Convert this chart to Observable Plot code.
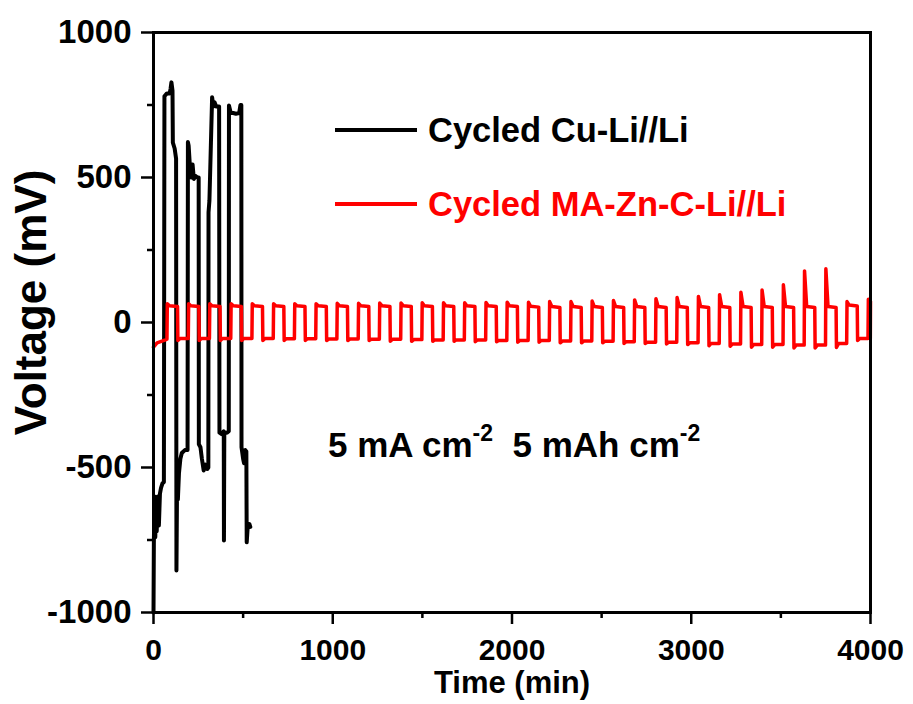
<!DOCTYPE html>
<html><head><meta charset="utf-8">
<script src="https://cdn.jsdelivr.net/npm/d3@7"></script>
<script src="https://cdn.jsdelivr.net/npm/@observablehq/plot@0.6"></script>
<style>
body{margin:0;background:#fff;}
#wrap{position:relative;width:913px;height:704px;font-family:"Liberation Sans",Arial,sans-serif;font-weight:bold;}
.leg{position:absolute;display:flex;align-items:center;font-size:34.5px;line-height:40px;white-space:nowrap;}
.leg .ln{display:inline-block;width:82px;height:4px;margin-right:11px;}
.note{position:absolute;font-size:35px;line-height:40px;white-space:nowrap;color:#000;}
.note sup{font-size:23px;position:relative;top:-3px;}
</style></head><body><div id="wrap"></div>
<script>
// ---- data ----
const seriesNames = ["Cycled Cu-Li//Li", "Cycled MA-Zn-C-Li//Li"];
const xMajor = [0, 1000, 2000, 3000, 4000];
const xMinor = [500, 1500, 2500, 3500];
const yMajor = [-1000, -500, 0, 500, 1000];
const yMinor = [-750, -250, 250, 750];

// Cu-Li//Li (black): time (min), voltage (mV)
const blackT = [0,2,6,10,14,18,24,30,36,42,50,58,
  61,75,90,95,100,106,108,118,126,
  128,131,136,142,150,158,175,190,
  192,196,204,210,218,225,235,245,252,
  253,262,270,280,290,300,306,
  307,312,327,334,340,350,366,
  368,380,392,393,395,410,420,
  421,430,460,478,485,490,
  491,500,505,512,518,520,526,535,540];
const blackV = [-1000,-760,-600,-740,-620,-720,-600,-700,-590,-570,-555,-550,
  780,790,790,805,828,800,620,600,565,
  -855,-600,-610,-520,-470,-450,-440,-440,
  622,610,530,500,545,495,505,500,500,
  -420,-430,-470,-510,-490,-505,-500,
  380,420,777,745,760,745,745,
  -380,-385,-375,-752,-380,-380,-375,
  748,725,720,722,750,750,
  -430,-470,-485,-440,-445,-758,-700,-695,-705];

// MA-Zn-C-Li//Li (red): initial segment, then per-cycle values
const redStartT = [0, 20, 74];
const redStartV = [-85, -70, -58];
const redRise = [75,194,312,431,549,668,786,905,1023,1142,1260,1379,1497,1616,1734,1853,1971,
  2090,2208,2327,2445,2564,2682,2801,2919,3038,3156,3275,3393,3512,3630,3749,3867,3986];
const redPosPeak = [65,65,65,65,65,65,65,65,66,66,67,67,68,68,68,69,70,
  70,72,72,74,76,78,82,86,90,96,104,112,130,178,185,72,80];
const redPosPlat = [58,58,58,58,58,58,58,58,58,58,58,58,58,58,58,58,58,
  56,55,55,55,55,55,55,55,55,55,55,55,55,55,55,60,72];
const redNegPeak = [-62,-62,-62,-62,-62,-62,-62,-62,-62,-62,-65,-65,-65,-65,-66,-66,-68,
  -68,-70,-70,-70,-72,-72,-74,-76,-80,-82,-85,-85,-88,-88,-86,-62,-60];
const redNegPlat = [-55,-55,-55,-55,-55,-56,-56,-57,-57,-58,-58,-59,-60,-60,-60,-62,-62,
  -62,-64,-64,-65,-66,-68,-68,-70,-72,-74,-76,-76,-78,-78,-72,-55,-55];

// ---- build tables ----
const black = blackT.map((t, i) => ({t, v: blackV[i]}));
const red = redStartT.map((t, i) => ({t, v: redStartV[i]}));
redRise.forEach((r, i) => {
  const fall = r + 59;
  const next = i + 1 < redRise.length ? redRise[i + 1] : 4000;
  red.push({t: r, v: i === 0 ? -58 : redNegPlat[i - 1]});
  const pts = [[r + 2, redPosPeak[i]], [r + 14, redPosPlat[i]], [fall, redPosPlat[i] - 3],
               [fall + 2, redNegPeak[i]], [fall + 14, redNegPlat[i]], [next - 1, redNegPlat[i]]];
  for (const [t, v] of pts) if (t <= 4000) red.push({t, v});
});

const font = "'Liberation Sans', Arial, sans-serif";
const chart = Plot.plot({
  width: 913, height: 704,
  marginLeft: 153, marginRight: 43, marginTop: 32, marginBottom: 92,
  style: {fontFamily: font, fontWeight: "bold", color: "#000", background: "#fff"},
  x: {domain: [0, 4000]},
  y: {domain: [-1000, 1000]},
  marks: [
    Plot.axisY({ticks: yMinor, tickSize: 6, strokeWidth: 2.5, tickFormat: () => "", label: null}),
    Plot.axisY({ticks: yMajor, tickSize: 12, tickPadding: 10, strokeWidth: 2.5, fontSize: 33, fontWeight: "bold",
      tickFormat: d => String(d), label: null}),
    Plot.axisX({ticks: xMinor, tickSize: 6, strokeWidth: 2.5, tickFormat: () => "", label: null}),
    Plot.axisX({ticks: xMajor, tickSize: 12, tickPadding: 14, strokeWidth: 2.5, fontSize: 30, fontWeight: "bold",
      tickFormat: d => String(d), label: null}),
    Plot.line(black, {x: "t", y: "v", stroke: "#000", strokeWidth: 4}),
    Plot.line(red, {x: "t", y: "v", stroke: "#ff0000", strokeWidth: 3.5}),
    Plot.frame({stroke: "#000", strokeWidth: 3}),
    Plot.text(["Voltage (mV)"], {frameAnchor: "left", textAnchor: "middle", rotate: -90, dx: -122, dy: -20,
      fontSize: 44, fontWeight: "bold"}),
    Plot.text(["Time (min)"], {frameAnchor: "bottom", dy: 80, fontSize: 31, fontWeight: "bold"})
  ]
});
const wrap = document.getElementById("wrap");
wrap.appendChild(chart);

const colors = ["#000", "#ff0000"];
const legTops = [110, 184];
seriesNames.forEach((name, i) => {
  const d = document.createElement("div");
  d.className = "leg";
  d.style.left = "335px"; d.style.top = legTops[i] + "px"; d.style.color = colors[i];
  d.innerHTML = `<span class="ln" style="background:${colors[i]}"></span><span>${name}</span>`;
  wrap.appendChild(d);
});
const note = document.createElement("div");
note.className = "note";
note.style.left = "328px"; note.style.top = "416px";
note.innerHTML = "5 mA cm<sup>-2</sup>&nbsp;&nbsp;5 mAh cm<sup>-2</sup>";
wrap.appendChild(note);
</script>
</body></html>
